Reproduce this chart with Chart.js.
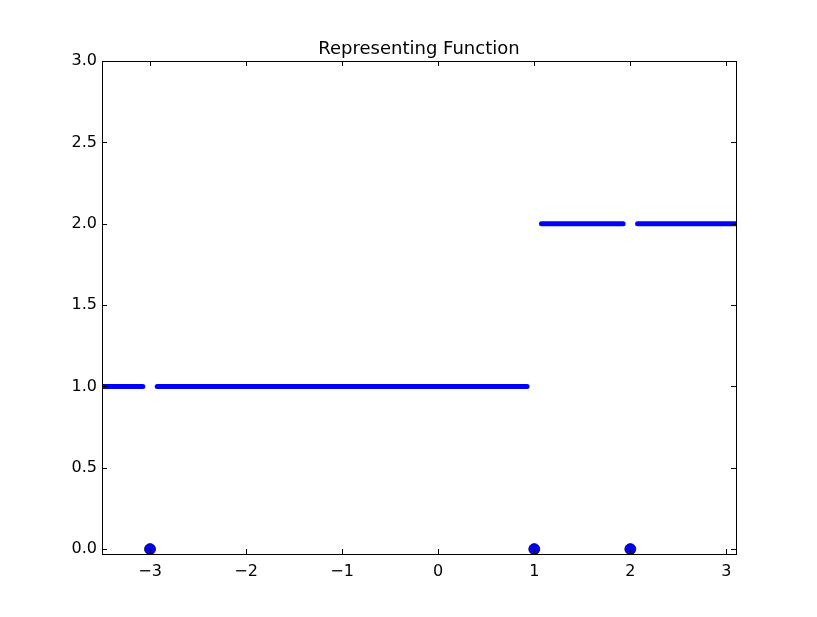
<!DOCTYPE html>
<html>
<head>
<meta charset="utf-8">
<script src="https://cdn.jsdelivr.net/npm/chart.js@4/dist/chart.umd.min.js"></script>
<style>
  html, body { margin: 0; padding: 0; background: #fff; }
  #wrap { width: 817px; height: 617px; }
</style>
</head>
<body>
<div id="wrap"><canvas id="chart"></canvas></div>
<script>
// step function pieces (blue dotted runs), null = break between runs
const stepX = [-3.5, -3.075, null, -2.925, 0.925, null, 1.075, 1.925, null, 2.075, 3.1];
const stepY = [1, 1, null, 1, 1, null, 2, 2, null, 2, 2];
// isolated points at y = 0
const pointX = [-3, 1, 2];
const pointY = [0, 0, 0];
const xTicks = [-3, -2, -1, 0, 1, 2, 3];
const yTicks = [0, 0.5, 1, 1.5, 2, 2.5, 3];

const stepData = stepX.map((x, i) => x === null ? { x: null, y: null } : { x: x, y: stepY[i] });
const pointData = pointX.map((x, i) => ({ x: x, y: pointY[i] }));

// frame on all four sides + inward ticks on all sides, like matplotlib classic
const frame = {
  id: 'frame',
  afterDatasetsDraw(chart) {
    const ctx = chart.ctx, a = chart.chartArea;
    const xs = chart.scales.x, ys = chart.scales.y;
    const len = 5;
    ctx.save();
    ctx.strokeStyle = '#000';
    ctx.lineWidth = 1;
    ctx.beginPath();
    xTicks.forEach(v => {
      const p = Math.round(xs.getPixelForValue(v)) + 0.5;
      ctx.moveTo(p, a.bottom); ctx.lineTo(p, a.bottom - len);
      ctx.moveTo(p, a.top); ctx.lineTo(p, a.top + len);
    });
    yTicks.forEach(v => {
      const p = Math.round(ys.getPixelForValue(v)) + 0.5;
      ctx.moveTo(a.left, p); ctx.lineTo(a.left + len, p);
      ctx.moveTo(a.right, p); ctx.lineTo(a.right - len, p);
    });
    ctx.stroke();
    ctx.strokeRect(a.left + 0.5, a.top + 0.5, a.right - a.left, a.bottom - a.top);
    ctx.restore();
  }
};

new Chart(document.getElementById('chart'), {
  type: 'scatter',
  data: {
    datasets: [
      {
        label: 'f',
        data: stepData,
        showLine: true,
        spanGaps: false,
        borderColor: '#0000ff',
        borderWidth: 5,
        borderCapStyle: 'round',
        pointRadius: 0,
        order: 2
      },
      {
        label: 'points',
        data: pointData,
        showLine: false,
        pointRadius: 5.5,
        pointBackgroundColor: '#0000ff',
        pointBorderColor: '#000022',
        pointBorderWidth: 0.8,
        order: 1
      }
    ]
  },
  options: {
    responsive: true,
    maintainAspectRatio: false,
    animation: false,
    events: [],
    layout: { padding: { left: 0, right: 81, top: 0, bottom: 0 } },
    plugins: {
      legend: { display: false },
      tooltip: { enabled: false },
      title: {
        display: true,
        fullSize: false, // centre over the plot area only
        text: 'Representing Function',
        color: '#000',
        font: { family: 'DejaVu Sans', size: 18, weight: 'normal' },
        padding: { top: 39, bottom: 0.4 }
      }
    },
    scales: {
      x: {
        type: 'linear',
        min: -3.5,
        max: 3.1,
        grid: { display: false, drawTicks: false },
        border: { display: false },
        afterBuildTicks: s => { s.ticks = xTicks.map(v => ({ value: v })); },
        afterFit: s => { s.height = 63; },
        ticks: {
          color: '#000',
          padding: 8,
          maxRotation: 0,
          font: { family: 'DejaVu Sans', size: 16 },
          callback: v => (v < 0 ? '\u2212' + Math.abs(v) : String(v))
        }
      },
      y: {
        type: 'linear',
        min: -0.03,
        max: 3.0,
        grid: { display: false, drawTicks: false },
        border: { display: false },
        afterBuildTicks: s => { s.ticks = yTicks.map(v => ({ value: v })); },
        afterFit: s => { s.width = 102; },
        ticks: {
          color: '#000',
          padding: 5,
          font: { family: 'DejaVu Sans', size: 16 },
          callback: v => Number(v).toFixed(1)
        }
      }
    }
  },
  plugins: [frame]
});
</script>
</body>
</html>
